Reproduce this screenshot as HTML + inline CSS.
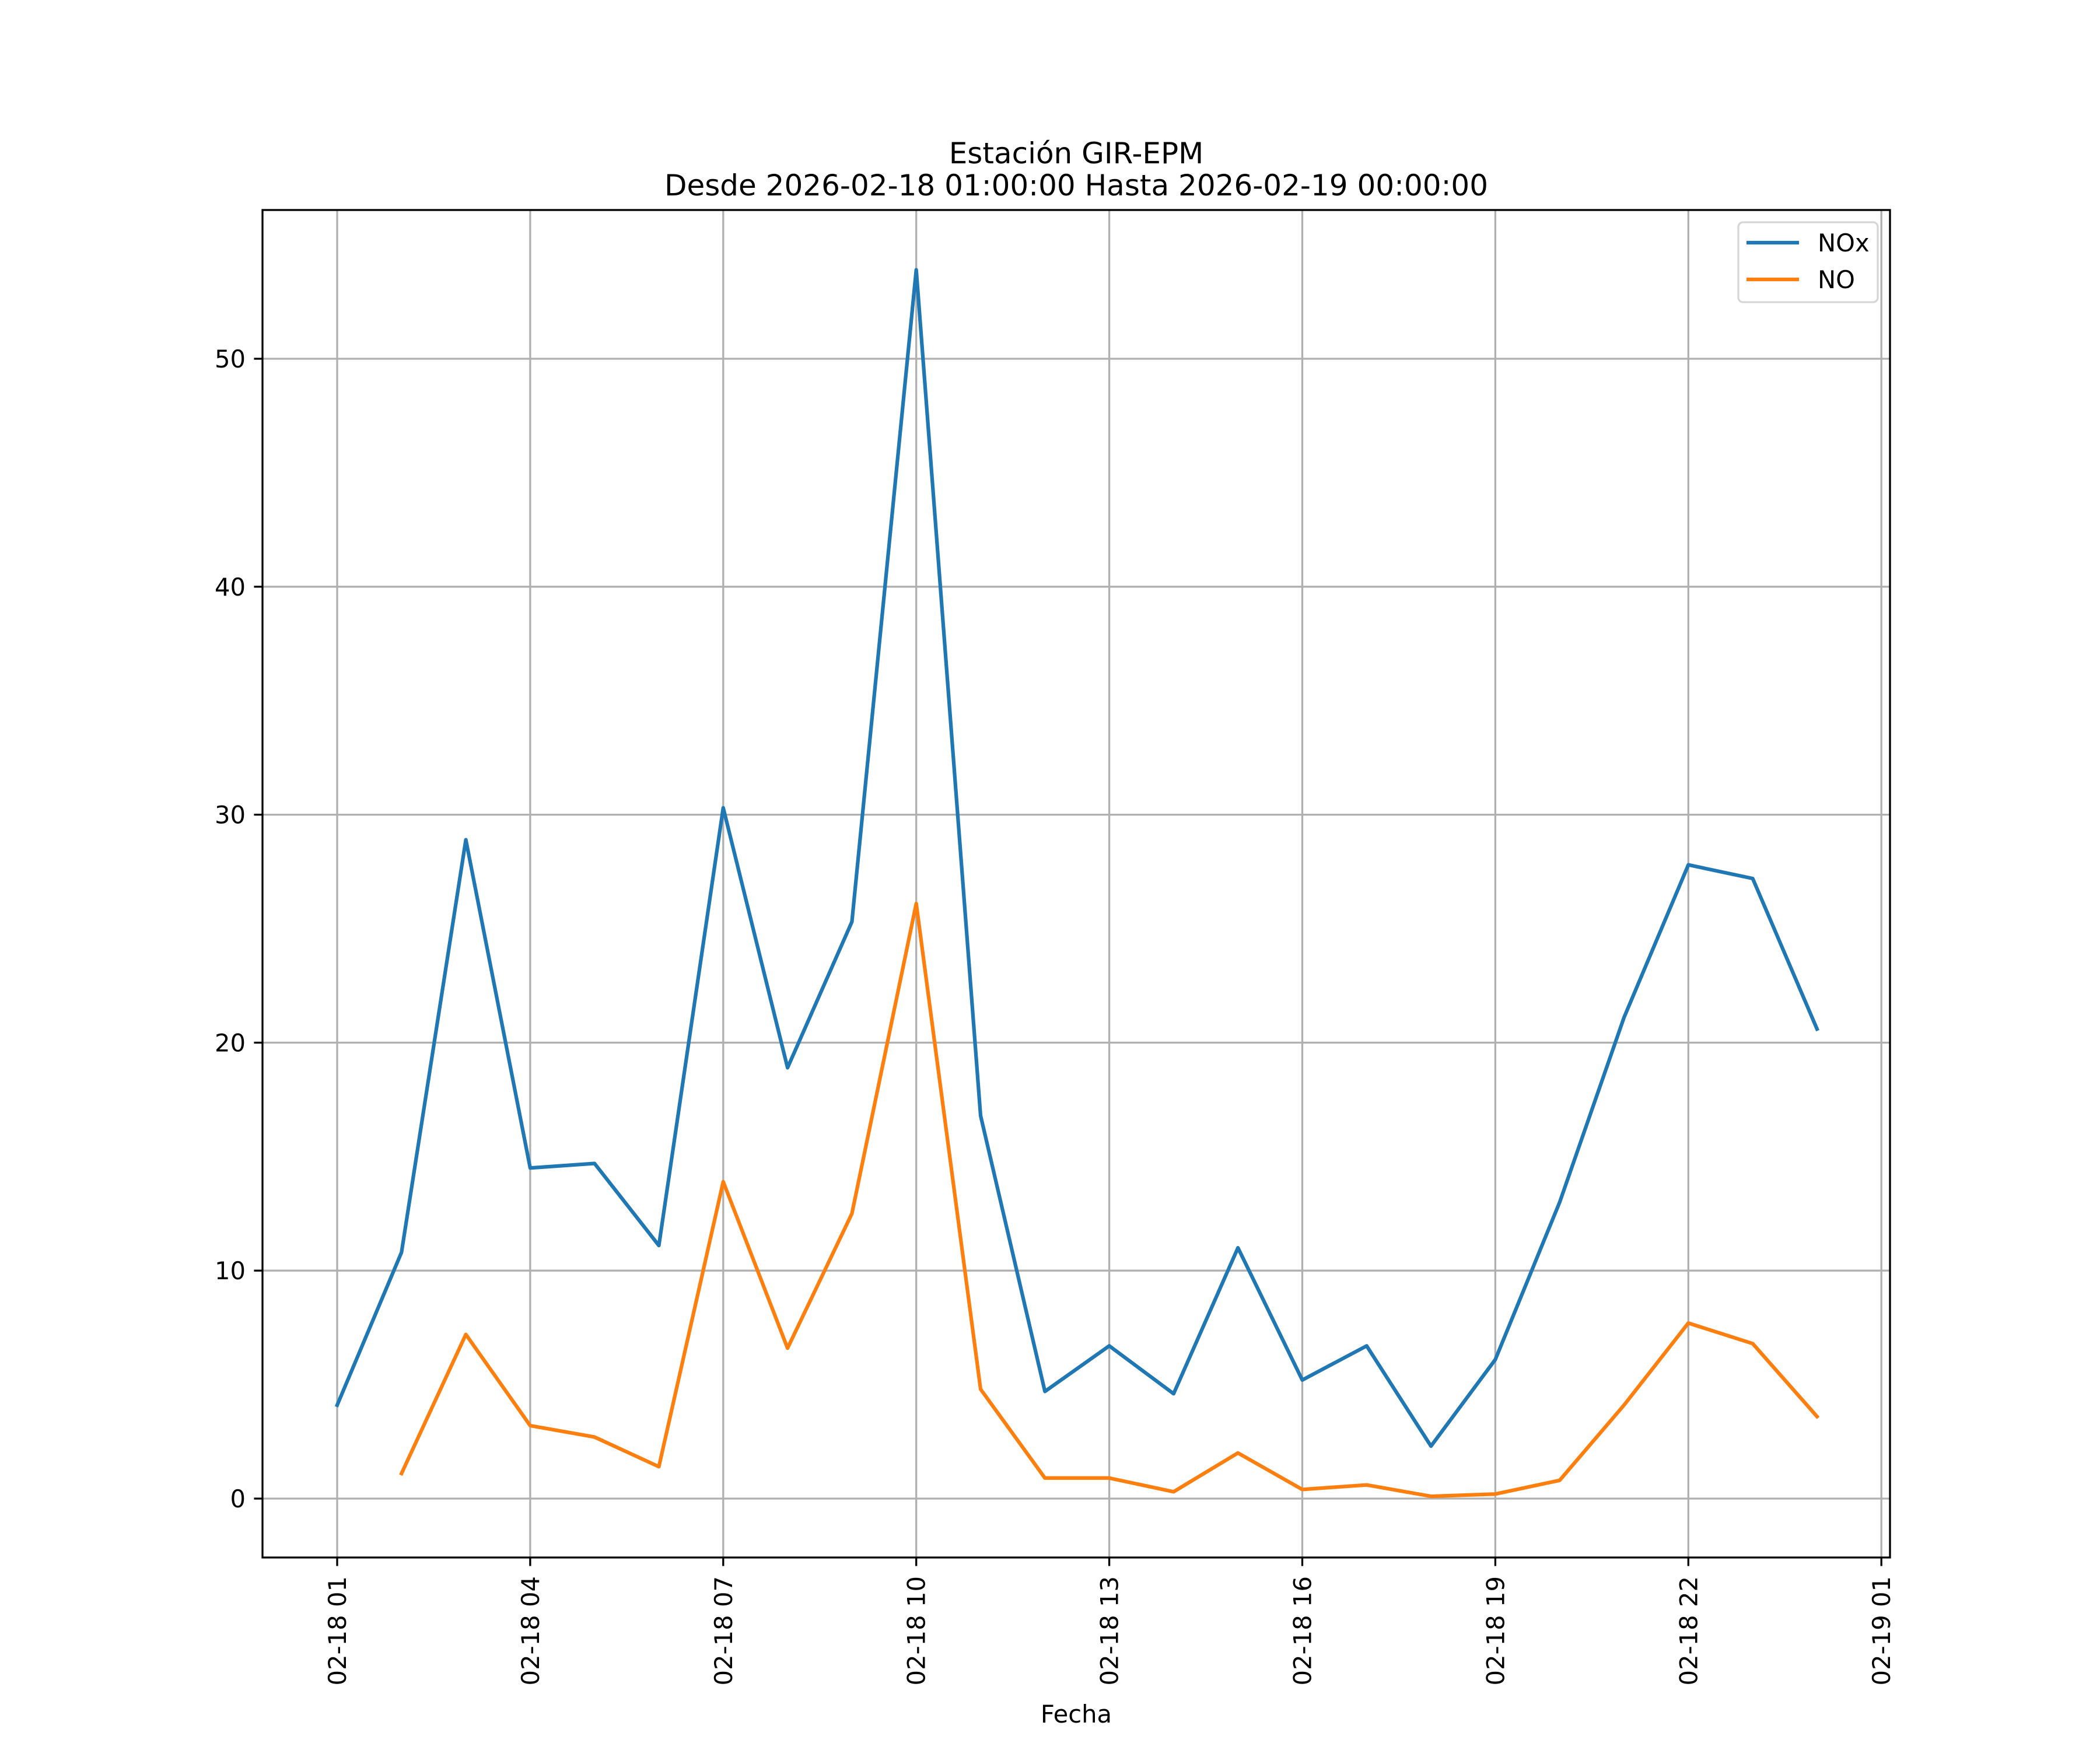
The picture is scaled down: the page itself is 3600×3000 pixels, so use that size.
<!DOCTYPE html>
<html><head><meta charset="utf-8"><style>html,body{margin:0;padding:0;background:#fff}svg{display:block}text{font-family:"DejaVu Sans","Liberation Sans",sans-serif}</style></head>
<body>
<svg id="chart" width="3600" height="3000" viewBox="0 0 3600 3000" xmlns="http://www.w3.org/2000/svg">
<rect width="3600" height="3000" fill="#fff"/>
<text x="1845" y="280" font-size="50" text-anchor="middle">Estación GIR-EPM</text>
<text x="1845" y="335" font-size="50" text-anchor="middle">Desde 2026-02-18 01:00:00 Hasta 2026-02-19 00:00:00</text>
<g id="grid"></g>
<g id="series"></g>
<rect x="450" y="360" width="2790" height="2310" fill="none" stroke="#000" stroke-width="3.3"/>
<g id="ticks"></g>
<text x="1845" y="2953" font-size="41.7" text-anchor="middle">Fecha</text>
<g>
<rect x="2980" y="381" width="239" height="137" rx="8" fill="#fff" fill-opacity="0.8" stroke="#d6d6d6" stroke-width="3.3"/>
<line x1="2994" y1="416" x2="3084" y2="416" stroke="#1f77b4" stroke-width="6.25"/>
<text x="3116" y="431" font-size="41.7">NOx</text>
<line x1="2994" y1="479" x2="3084" y2="479" stroke="#ff7f0e" stroke-width="6.25"/>
<text x="3116" y="494" font-size="41.7">NO</text>
</g>
</svg>
<script>
const hours = [0,1,2,3,4,5,6,7,8,9,10,11,12,13,14,15,16,17,18,19,20,21,22,23];
const noxValues = [4.1,10.8,28.9,14.5,14.7,11.1,30.3,18.9,25.3,53.9,16.8,4.7,6.7,4.6,11.0,5.2,6.7,2.3,6.1,13.0,21.1,27.8,27.2,20.6];
const noValues = [null,1.1,7.2,3.2,2.7,1.4,13.9,6.6,12.5,26.1,4.8,0.9,0.9,0.3,2.0,0.4,0.6,0.1,0.2,0.8,4.1,7.7,6.8,3.6];
const xTickHours = [0,3,6,9,12,15,18,21,24];
const xTickLabels = ["02-18 01","02-18 04","02-18 07","02-18 10","02-18 13","02-18 16","02-18 19","02-18 22","02-19 01"];
const yTicks = [0,10,20,30,40,50];

const NS = "http://www.w3.org/2000/svg";
const L = 450, R = 3240, T = 360, B = 2670;
function xs(h){ return 578 + 110.3 * h; }
function ys(v){ return 2569 - 39.08 * v; }
function mk(tag, attrs, parent){ const e = document.createElementNS(NS, tag); for (const k in attrs) e.setAttribute(k, attrs[k]); parent.appendChild(e); return e; }
const grid = document.getElementById('grid'), ticks = document.getElementById('ticks'), series = document.getElementById('series');

xTickHours.forEach((h, i) => {
  const x = xs(h);
  const g = mk('line', {x1:x, y1:T, x2:x, y2:B, stroke:'#b0b0b0', 'stroke-width':3.3}, grid);
  
  
  const t = mk('line', {x1:x, y1:B, x2:x, y2:B+14.6, stroke:'#000', 'stroke-width':3.3}, ticks);
  
  
  const lb = mk('text', {x:0, y:0, 'font-size':41.7, 'text-anchor':'end', transform:`translate(${x+15},${B+32}) rotate(-90)`}, ticks);
  lb.textContent = xTickLabels[i];
  
  
});
yTicks.forEach(v => {
  const y = ys(v);
  const g = mk('line', {x1:L, y1:y, x2:R, y2:y, stroke:'#b0b0b0', 'stroke-width':3.3}, grid);
  
  
  const t = mk('line', {x1:L-14.6, y1:y, x2:L, y2:y, stroke:'#000', 'stroke-width':3.3}, ticks);
  
  
  const lb = mk('text', {x:L-29, y:y+15, 'font-size':41.7, 'text-anchor':'end'}, ticks);
  lb.textContent = String(v);
  
  
});
function pathFor(vals){
  let d = '', pen = false;
  vals.forEach((v, i) => {
    if (v === null) { pen = false; return; }
    d += (pen ? 'L' : 'M') + xs(hours[i]).toFixed(1) + ',' + ys(v).toFixed(1);
    pen = true;
  });
  return d;
}
const p1 = mk('path', {d:pathFor(noxValues), fill:'none', stroke:'#1f77b4', 'stroke-width':6.25, 'stroke-linejoin':'round', 'stroke-linecap':'square'}, series);


const p2 = mk('path', {d:pathFor(noValues), fill:'none', stroke:'#ff7f0e', 'stroke-width':6.25, 'stroke-linejoin':'round', 'stroke-linecap':'square'}, series);


</script>
</body></html>
